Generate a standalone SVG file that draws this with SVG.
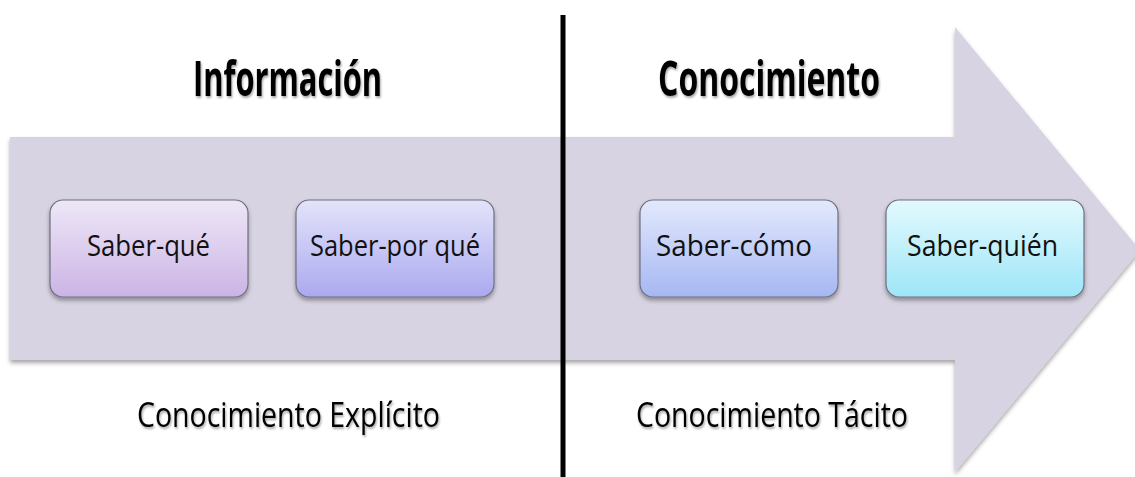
<svg xmlns="http://www.w3.org/2000/svg" width="1135" height="477" viewBox="0 0 1135 477">
<defs>
<linearGradient id="g1" x1="0" y1="0" x2="0" y2="1"><stop offset="0" stop-color="#eee7f7"/><stop offset="1" stop-color="#cbb4e5"/></linearGradient>
<linearGradient id="g2" x1="0" y1="0" x2="0" y2="1"><stop offset="0" stop-color="#e3e3fa"/><stop offset="1" stop-color="#aba9ef"/></linearGradient>
<linearGradient id="g3" x1="0" y1="0" x2="0" y2="1"><stop offset="0" stop-color="#e3e9fc"/><stop offset="1" stop-color="#a6b7f3"/></linearGradient>
<linearGradient id="g4" x1="0" y1="0" x2="0" y2="1"><stop offset="0" stop-color="#e3f9fd"/><stop offset="1" stop-color="#9ee6f8"/></linearGradient>
<filter id="sh" x="-5%" y="-5%" width="110%" height="115%"><feDropShadow dx="0" dy="3" stdDeviation="2" flood-color="#000" flood-opacity="0.35"/></filter>
<filter id="tsh" x="-10%" y="-20%" width="120%" height="140%"><feDropShadow dx="1" dy="2" stdDeviation="1.2" flood-color="#000" flood-opacity="0.35"/></filter>
</defs>
<style>
.box{stroke:#6f6f80;stroke-width:1.2;filter:url(#sh)}
.lbl{font-family:"Open Sans","Liberation Sans",sans-serif;font-size:30px;fill:#111;text-anchor:start}
.ttl{font-family:"Open Sans","Liberation Sans",sans-serif;font-weight:bold;font-size:48px;fill:#000;filter:url(#tsh)}
.sub{font-family:"Open Sans","Liberation Sans",sans-serif;font-size:34px;fill:#000;filter:url(#tsh)}
</style>
<rect width="1135" height="477" fill="#fff"/>
<g id="arrow">
<polygon points="10,137 955,137 955,27 1140,250 955,472 955,360 10,360" fill="#d7d3e2" filter="url(#sh)"/>
</g>
<g id="divider">
<line x1="563" y1="15" x2="563" y2="477" stroke="#000" stroke-width="5"/>
</g>
<g id="title-informacion"><text class="ttl" x="193" y="96" textLength="189" lengthAdjust="spacingAndGlyphs">Información</text></g>
<g id="title-conocimiento"><text class="ttl" x="658" y="96" textLength="222" lengthAdjust="spacingAndGlyphs">Conocimiento</text></g>
<g id="node-saber-que">
<rect class="box" x="50" y="200" width="198" height="97" rx="13" fill="url(#g1)"/>
<text class="lbl" x="87" y="256" textLength="123" lengthAdjust="spacingAndGlyphs">Saber-qué</text>
</g>
<g id="node-saber-por-que">
<rect class="box" x="296" y="200" width="198" height="97" rx="13" fill="url(#g2)"/>
<text class="lbl" x="310" y="256" textLength="170" lengthAdjust="spacingAndGlyphs">Saber-por qué</text>
</g>
<g id="node-saber-como">
<rect class="box" x="640" y="200" width="198" height="97" rx="13" fill="url(#g3)"/>
<text class="lbl" x="656" y="256" textLength="156" lengthAdjust="spacingAndGlyphs">Saber-cómo</text>
</g>
<g id="node-saber-quien">
<rect class="box" x="886" y="200" width="198" height="97" rx="13" fill="url(#g4)"/>
<text class="lbl" x="907" y="256" textLength="151" lengthAdjust="spacingAndGlyphs">Saber-quién</text>
</g>
<g id="label-explicito"><text class="sub" x="137" y="427" textLength="303" lengthAdjust="spacingAndGlyphs">Conocimiento Explícito</text></g>
<g id="label-tacito"><text class="sub" x="636" y="427" textLength="272" lengthAdjust="spacingAndGlyphs">Conocimiento Tácito</text></g>
<g id="connectors"/>
</svg>
